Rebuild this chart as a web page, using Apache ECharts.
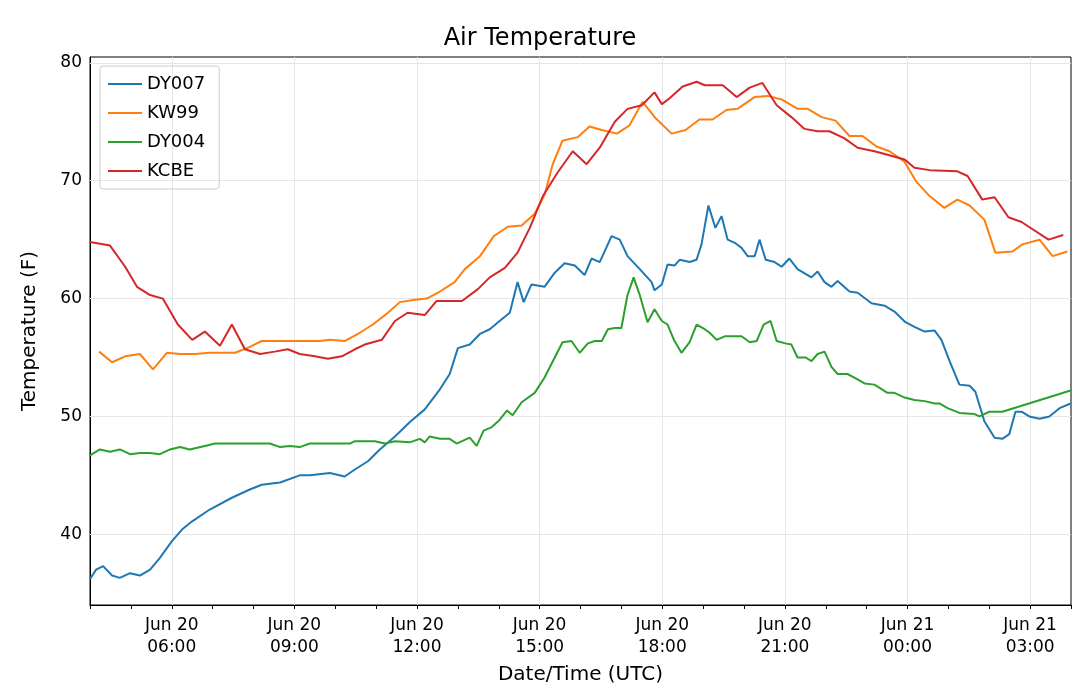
<!DOCTYPE html>
<html>
<head>
<meta charset="utf-8">
<script src="https://cdn.jsdelivr.net/npm/echarts@6/dist/echarts.min.js"></script>
<style>html,body{margin:0;padding:0;background:#fff;}#chart{width:1080px;height:691px;}</style>
</head>
<body>
<div id="chart"></div>
<script>
// hours after Jun 20 04:00 UTC, temperature (F)
const dy007 = [[0,36.2],[0.15,37.0],[0.32,37.3],[0.54,36.5],[0.73,36.3],[0.98,36.7],[1.22,36.5],[1.47,37.0],[1.71,38.0],[2.0,39.4],[2.25,40.4],[2.5,41.1],[2.93,42.1],[3.47,43.1],[3.91,43.8],[4.2,44.2],[4.65,44.4],[5.13,45.0],[5.38,45.0],[5.87,45.2],[6.23,44.9],[6.48,45.5],[6.8,46.2],[7.09,47.2],[7.46,48.3],[7.82,49.5],[8.19,50.6],[8.56,52.3],[8.8,53.6],[9.0,55.8],[9.29,56.1],[9.54,57.0],[9.78,57.4],[10.02,58.1],[10.27,58.8],[10.46,61.4],[10.61,59.7],[10.8,61.2],[11.12,61.0],[11.37,62.2],[11.61,63.0],[11.86,62.8],[12.1,62.0],[12.27,63.4],[12.47,63.1],[12.76,65.3],[12.96,65.0],[13.15,63.6],[13.45,62.5],[13.74,61.4],[13.81,60.7],[13.99,61.2],[14.13,62.9],[14.3,62.8],[14.43,63.3],[14.67,63.1],[14.84,63.3],[14.96,64.6],[15.13,67.9],[15.3,66.0],[15.45,67.0],[15.6,65.0],[15.79,64.7],[15.94,64.3],[16.09,63.6],[16.26,63.6],[16.38,65.0],[16.53,63.3],[16.75,63.1],[16.92,62.7],[17.11,63.4],[17.31,62.5],[17.65,61.8],[17.8,62.3],[17.97,61.4],[18.14,61.0],[18.29,61.5],[18.58,60.6],[18.78,60.5],[19.12,59.6],[19.44,59.4],[19.68,58.9],[19.95,58.0],[20.17,57.6],[20.42,57.2],[20.66,57.3],[20.83,56.5],[21.03,54.7],[21.27,52.7],[21.52,52.6],[21.66,52.1],[21.88,49.6],[22.13,48.2],[22.32,48.1],[22.49,48.5],[22.64,50.4],[22.79,50.4],[22.98,50.0],[23.23,49.8],[23.47,50.0],[23.72,50.7],[23.99,51.1]];
const kw99 = [[0.22,55.5],[0.54,54.6],[0.86,55.1],[1.22,55.3],[1.54,54.0],[1.88,55.4],[2.2,55.3],[2.57,55.3],[2.93,55.4],[3.55,55.4],[3.91,55.9],[4.2,56.4],[4.89,56.4],[5.62,56.4],[5.87,56.5],[6.23,56.4],[6.6,57.1],[6.92,57.8],[7.29,58.8],[7.58,59.7],[7.95,59.9],[8.24,60.0],[8.56,60.6],[8.92,61.4],[9.17,62.5],[9.54,63.6],[9.88,65.3],[10.22,66.1],[10.56,66.2],[10.88,67.2],[11.12,68.8],[11.32,71.4],[11.56,73.4],[11.93,73.7],[12.22,74.6],[12.52,74.3],[12.89,74.0],[13.2,74.7],[13.52,76.7],[13.84,75.3],[14.23,74.0],[14.57,74.3],[14.91,75.2],[15.23,75.2],[15.57,76.0],[15.84,76.1],[16.26,77.1],[16.58,77.2],[16.92,76.9],[17.31,76.1],[17.56,76.1],[17.9,75.4],[18.24,75.1],[18.58,73.8],[18.9,73.8],[19.24,72.9],[19.56,72.5],[19.93,71.6],[20.22,69.9],[20.54,68.7],[20.9,67.7],[21.22,68.4],[21.52,67.9],[21.88,66.7],[22.15,63.9],[22.57,64.0],[22.81,64.6],[23.23,65.0],[23.55,63.6],[23.91,64.0]];
const dy004 = [[0,46.7],[0.24,47.2],[0.49,47.0],[0.73,47.2],[0.98,46.8],[1.22,46.9],[1.47,46.9],[1.71,46.8],[1.96,47.2],[2.2,47.4],[2.44,47.2],[2.81,47.5],[3.06,47.7],[3.42,47.7],[4.4,47.7],[4.65,47.4],[4.89,47.5],[5.13,47.4],[5.38,47.7],[5.87,47.7],[6.36,47.7],[6.48,47.9],[6.97,47.9],[7.21,47.7],[7.46,47.9],[7.82,47.8],[8.07,48.1],[8.19,47.8],[8.31,48.3],[8.56,48.1],[8.8,48.1],[8.97,47.7],[9.29,48.2],[9.46,47.5],[9.63,48.8],[9.83,49.1],[10.02,49.7],[10.2,50.5],[10.34,50.1],[10.56,51.2],[10.88,52.0],[11.12,53.3],[11.37,55.0],[11.56,56.3],[11.78,56.4],[11.98,55.4],[12.18,56.2],[12.35,56.4],[12.52,56.4],[12.67,57.4],[12.84,57.5],[13.0,57.5],[13.15,60.3],[13.3,61.8],[13.45,60.3],[13.64,58.0],[13.81,59.1],[13.99,58.1],[14.13,57.8],[14.3,56.4],[14.47,55.4],[14.67,56.3],[14.84,57.8],[15.04,57.4],[15.16,57.1],[15.33,56.5],[15.53,56.8],[15.77,56.8],[15.94,56.8],[16.14,56.3],[16.31,56.4],[16.48,57.8],[16.65,58.1],[16.8,56.4],[17.01,56.2],[17.16,56.1],[17.31,55.0],[17.51,55.0],[17.65,54.7],[17.8,55.3],[17.97,55.5],[18.14,54.2],[18.29,53.6],[18.53,53.6],[18.7,53.3],[18.95,52.8],[19.19,52.7],[19.51,52.0],[19.68,52.0],[19.93,51.6],[20.17,51.4],[20.42,51.3],[20.66,51.1],[20.78,51.1],[20.98,50.7],[21.27,50.3],[21.64,50.2],[21.76,50.0],[22.0,50.4],[22.32,50.4],[23.99,52.2]];
const kcbe = [[0,64.8],[0.49,64.5],[0.86,62.7],[1.15,61.0],[1.47,60.3],[1.78,60.0],[2.15,57.8],[2.5,56.5],[2.81,57.2],[3.18,56.0],[3.47,57.8],[3.79,55.7],[4.16,55.3],[4.52,55.5],[4.84,55.7],[5.13,55.3],[5.5,55.1],[5.82,54.9],[6.16,55.1],[6.48,55.7],[6.72,56.1],[7.14,56.5],[7.46,58.1],[7.77,58.8],[8.19,58.6],[8.48,59.8],[9.1,59.8],[9.49,60.8],[9.78,61.8],[10.15,62.6],[10.46,63.9],[10.76,66.0],[11.08,68.7],[11.44,70.7],[11.81,72.5],[12.15,71.4],[12.47,72.8],[12.84,75.0],[13.15,76.1],[13.5,76.4],[13.81,77.5],[13.99,76.5],[14.18,77.0],[14.5,78.0],[14.84,78.4],[15.04,78.1],[15.48,78.1],[15.82,77.1],[16.14,77.9],[16.45,78.3],[16.8,76.4],[17.16,75.4],[17.48,74.4],[17.8,74.2],[18.09,74.2],[18.46,73.6],[18.78,72.8],[19.19,72.5],[19.51,72.2],[19.93,71.8],[20.17,71.1],[20.54,70.9],[21.22,70.8],[21.47,70.4],[21.83,68.4],[22.13,68.6],[22.47,66.9],[22.79,66.5],[23.45,65.0],[23.81,65.4]];

const seriesNames = ['DY007', 'KW99', 'DY004', 'KCBE'];
const seriesData = [dy007, kw99, dy004, kcbe];
const colors = ['#1f77b4', '#ff7f0e', '#2ca02c', '#d62728'];
const startHour = 4; // Jun 20 04:00, hours counted from Jun 20 00:00
const xTicks = [6, 9, 12, 15, 18, 21, 24, 27];
const yTicks = [40, 50, 60, 70, 80];

const font = 'DejaVu Sans';
const gridLine = { color: '#e6e6e6', width: 1, type: 'solid' };
const chart = echarts.init(document.getElementById('chart'));
const lines = seriesNames.map(function (name, i) {
    return {
        name: name, type: 'line', showSymbol: false, z: 3,
        lineStyle: { width: 2 },
        data: seriesData[i].map(function (p) { return [p[0] + startHour, p[1]]; })
    };
});
// grid lines at the labelled ticks only
lines.push({
    type: 'line', data: [], z: 1, silent: true,
    markLine: {
        z: 1, silent: true, symbol: 'none', label: { show: false }, lineStyle: gridLine, animation: false,
        emphasis: { disabled: true },
        data: xTicks.map(function (v) { return { xAxis: v }; })
            .concat(yTicks.map(function (v) { return { yAxis: v }; }))
    }
});
chart.setOption({
    animation: false,
    color: colors,
    textStyle: { fontFamily: font },
    title: {
        text: 'Air Temperature', left: 'center', top: 22,
        textStyle: { fontFamily: font, fontSize: 24, fontWeight: 'normal', color: '#000' }
    },
    legend: {
        orient: 'vertical', left: 100, top: 66,
        itemWidth: 34, itemHeight: 2, itemGap: 11,
        padding: [9, 14, 9, 8],
        borderColor: '#ccc', borderWidth: 1, borderRadius: 3,
        icon: 'rect',
        textStyle: { fontFamily: font, fontSize: 18, color: '#000' },
        data: seriesNames
    },
    grid: { left: 90, right: 9, top: 57, bottom: 86, show: true, borderColor: '#000', borderWidth: 1 },
    xAxis: {
        type: 'value', min: startHour, max: startHour + 24, interval: 1,
        name: 'Date/Time (UTC)', nameLocation: 'middle', nameGap: 60,
        nameTextStyle: { fontFamily: font, fontSize: 20, color: '#000' },
        axisLine: { lineStyle: { color: '#000' } },
        axisTick: { length: 4, lineStyle: { color: '#000' } },
        axisLabel: {
            fontFamily: font, fontSize: 17, color: '#000', lineHeight: 22, margin: 10,
            formatter: function (v) {
                if (xTicks.indexOf(v) < 0) return '';
                const day = 20 + Math.floor(v / 24);
                const hh = String(v % 24).padStart(2, '0');
                return 'Jun ' + day + '\n' + hh + ':00';
            }
        },
        splitLine: { show: false }
    },
    yAxis: {
        type: 'value', min: 34, max: 80.5, interval: 2,
        name: 'Temperature (F)', nameLocation: 'middle', nameGap: 50,
        nameTextStyle: { fontFamily: font, fontSize: 20, color: '#000' },
        axisLine: { show: true, lineStyle: { color: '#000' } },
        axisTick: { show: false },
        axisLabel: {
            fontFamily: font, fontSize: 17, color: '#000',
            formatter: function (v) { return yTicks.indexOf(v) >= 0 ? String(v) : ''; }
        },
        splitLine: { show: false }
    },
    series: lines
});
</script>
</body>
</html>
